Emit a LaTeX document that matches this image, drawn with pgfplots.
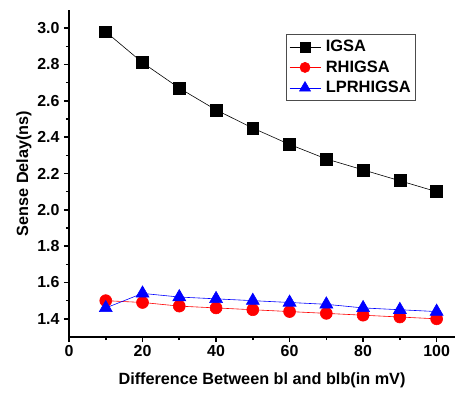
\documentclass[border=0pt]{standalone}
\usepackage{fontspec}
\setmainfont{Liberation Sans}
\usepackage{pgfplots}
\pgfplotsset{compat=1.18}
\begin{document}
\begin{tikzpicture}
\begin{axis}[
  name=ax,
  scale only axis,
  width=386bp, height=327bp,
  xmin=0, xmax=105, ymin=1.3, ymax=3.1,
  axis lines=left,
  axis line style={-, line width=2.2pt},
  xtick={0,20,40,60,80,100},
  ytick={1.4,1.6,...,3.01},
  minor x tick num=1,
  minor y tick num=1,
  tick align=outside,
  major tick length=5bp,
  minor tick length=3bp,
  tick style={line width=1.6pt, black},
  /pgf/number format/assume math mode=true,
  /pgf/number format/.cd, fixed, fixed zerofill, precision=1, /pgfplots/.cd,
  xticklabel style={/pgf/number format/precision=0, /pgf/number format/fixed zerofill=false},
  ticklabel style={font=\fontsize{16}{18}\selectfont\bfseries},
  yticklabel style={xshift=-1bp},
  xlabel={Difference Between bl and blb(in mV)},
  ylabel={Sense Delay(ns)},
  label style={font=\fontsize{16.3}{18}\selectfont\bfseries},
  xlabel style={yshift=-9bp},
  ylabel style={yshift=-1bp},
  legend style={at={(0.562,0.926)}, anchor=north west, draw=black!70, line width=0.6pt,
    font=\fontsize{16.5}{18}\selectfont\bfseries, row sep=3.5bp, inner xsep=3pt, inner ysep=4bp,
    /tikz/every odd column/.append style={column sep=3bp}},
  legend cell align=left,
  legend image code/.code={\draw[mark repeat=2, mark phase=2, line width=0.6pt, mark options={scale=0.85}] plot coordinates {(0bp,0bp)(15.5bp,0bp)(31bp,0bp)};},
]
\addplot[black, line width=0.6pt, mark=square*, mark size=6pt, mark options={fill=black}]
 coordinates {(10,2.98)(20,2.81)(30,2.67)(40,2.55)(50,2.45)(60,2.36)(70,2.28)(80,2.22)(90,2.16)(100,2.10)};
\addlegendentry{IGSA}
\addplot[red, line width=0.6pt, mark=*, mark size=6pt, mark options={fill=red}]
 coordinates {(10,1.50)(20,1.49)(30,1.47)(40,1.46)(50,1.45)(60,1.44)(70,1.43)(80,1.42)(90,1.41)(100,1.40)};
\addlegendentry{RHIGSA}
\addplot[blue, line width=0.6pt, mark=triangle*, mark size=7.5pt, mark options={fill=blue}]
 coordinates {(10,1.46)(20,1.54)(30,1.52)(40,1.51)(50,1.50)(60,1.49)(70,1.48)(80,1.46)(90,1.45)(100,1.44)};
\addlegendentry{LPRHIGSA}
\end{axis}
\pgfresetboundingbox
\path ([xshift=-69bp,yshift=-60.3bp]ax.south west) rectangle ([xshift=13bp,yshift=10bp]ax.north east);
\end{tikzpicture}
\end{document}
